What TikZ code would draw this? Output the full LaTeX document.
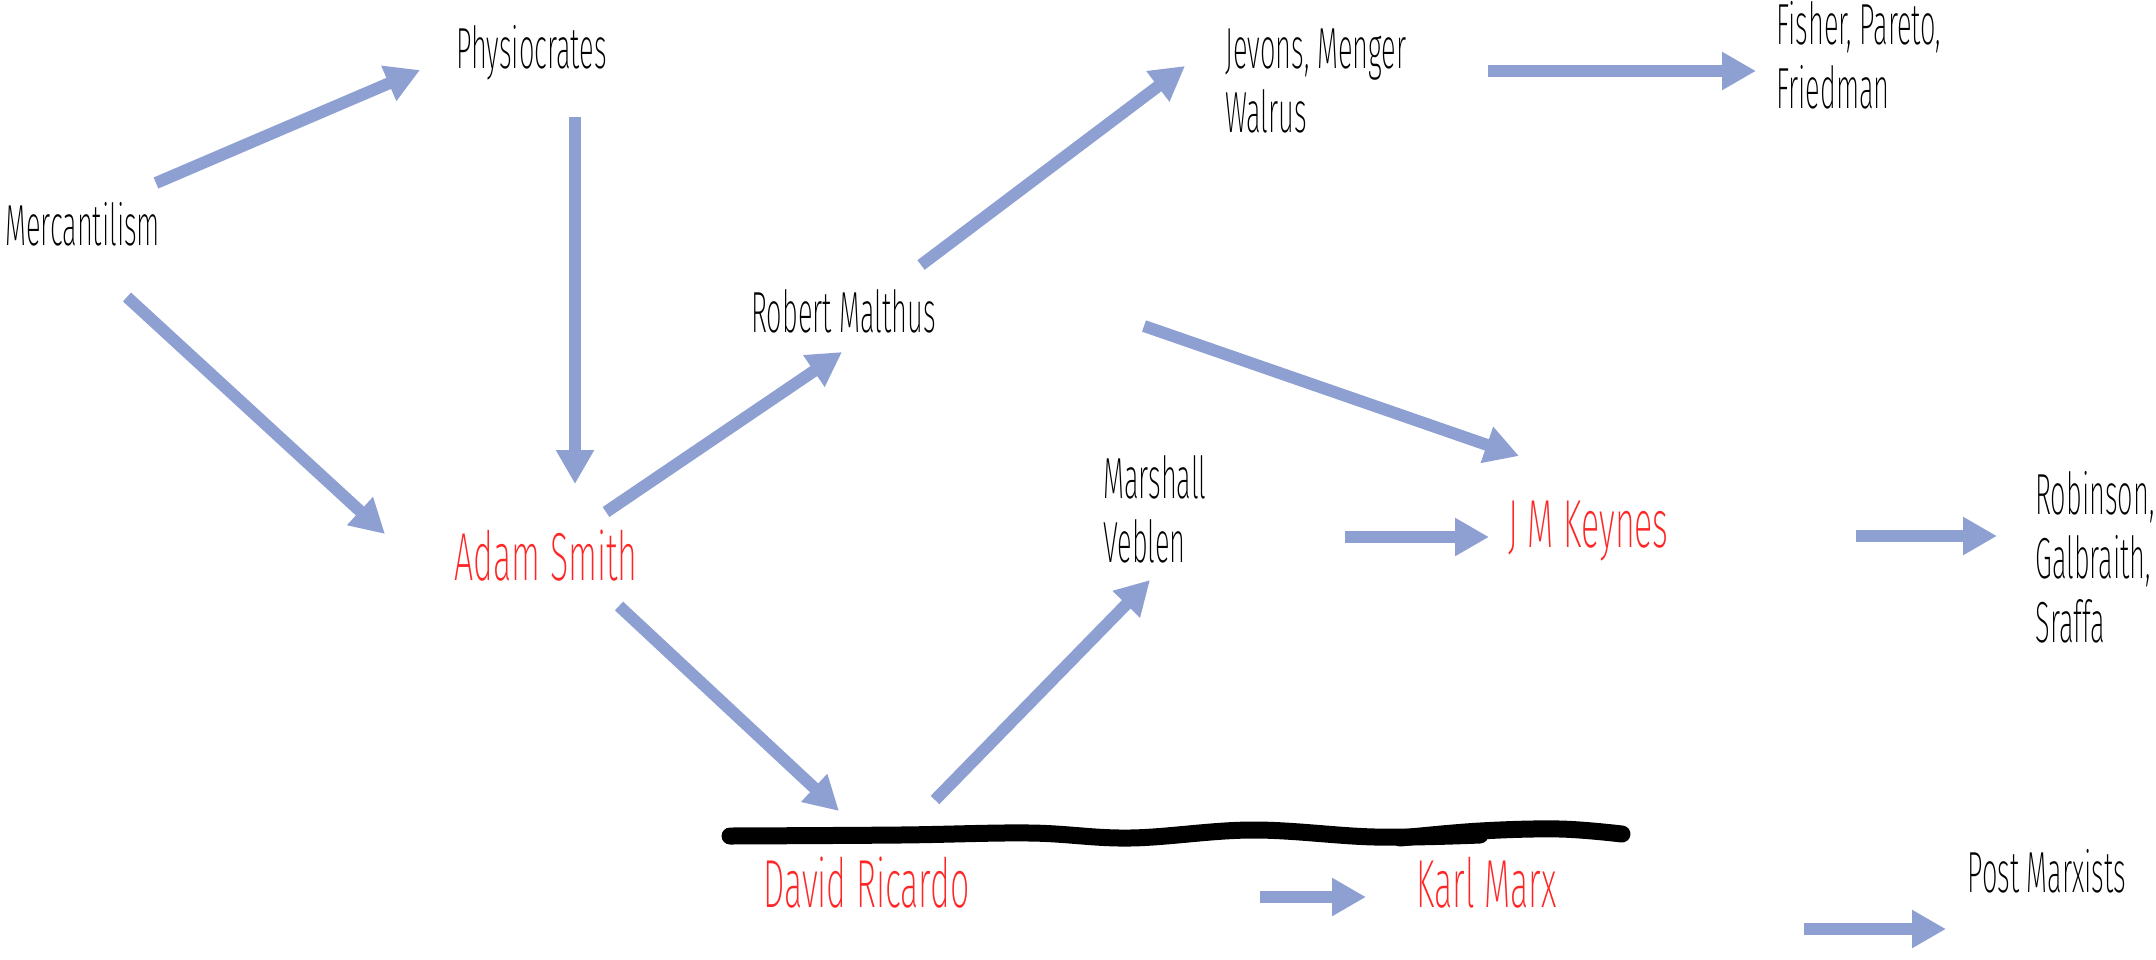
\documentclass[tikz,border=0pt]{standalone}
\usepackage{fontspec}
\IfFontExistsTF{Fira Sans ExtraLight}
    {\def\schoolfontname{Fira Sans ExtraLight}}
    {\IfFontExistsTF{Fira Sans Light}
        {\def\schoolfontname{Fira Sans Light}}
        {\def\schoolfontname{Fira Sans}}}
\setmainfont{\schoolfontname}[FakeStretch = 0.47]
\newfontfamily\keyfont{\schoolfontname}[FakeStretch = 0.50]
\usetikzlibrary{arrows.meta}

\definecolor{flowblue}{RGB}{142,160,210}
\definecolor{keyred}{RGB}{255,38,38}

\begin{document}
\begin{tikzpicture}[%
        x = 0.5pt,
        y = -0.5pt,
        flow/.style = {
            draw = flowblue,
            line width = 6pt,
            -{Triangle[width = 18pt, length = 17pt]}
        },
        school/.style = {
            anchor = base west,
            inner sep = 0pt,
            align = left,
            font = \fontsize{29pt}{32pt}\selectfont
        },
        keyschool/.style = {
            school,
            text = keyred,
            font = \keyfont\fontsize{34pt}{38pt}\selectfont
        },
        scribble/.style = {
            draw = black,
            line width = 8.5pt,
            line cap = round,
            line join = round
        }
    ]

        \useasboundingbox (0, 0) rectangle (2156, 959);

        % Names of the schools (multi-line ones sit on their last line).
        \node[school] at (5, 245) (merc) {Mercantilism};
        \node[school] at (456, 68) (physio) {Physiocrates};
        \node[school] at (751, 332) (malthus) {Robert Malthus};
        \node[school] at (1225, 132) (jevons) {Jevons, Menger\\Walrus};
        \node[school] at (1776, 108) (fisher) {Fisher, Pareto,\\Friedman};
        \node[keyschool] at (454, 580) (smith) {Adam Smith};
        \node[school] at (1103, 562) (marshall) {Marshall\\Veblen};
        \node[keyschool] at (1508, 547) (keynes) {J M Keynes};
        \node[school] at (2035, 642) (robinson) {Robinson,\\Galbraith,\\Sraffa};
        \node[keyschool] at (763, 907) (ricardo) {David Ricardo};
        \node[keyschool] at (1416, 907) (marx) {Karl Marx};
        \node[school] at (1967, 892) (postmarx) {Post Marxists};

        % Ends of the arrows.
        \coordinate (m1) at (156, 183);
        \coordinate (p1) at (420, 70);
        \coordinate (m2) at (127, 297);
        \coordinate (s1) at (385, 534);
        \coordinate (p2) at (575, 117);
        \coordinate (s2) at (575, 484);
        \coordinate (s3) at (606, 512);
        \coordinate (r1) at (842, 352);
        \coordinate (r2) at (921, 265);
        \coordinate (j1) at (1185, 66);
        \coordinate (j2) at (1488, 71);
        \coordinate (f1) at (1756, 71);
        \coordinate (r3) at (1144, 326);
        \coordinate (k1) at (1519, 456);
        \coordinate (s4) at (619, 606);
        \coordinate (d1) at (839, 811);
        \coordinate (d2) at (935, 800);
        \coordinate (v1) at (1150, 580);
        \coordinate (v2) at (1345, 537);
        \coordinate (k2) at (1489, 537);
        \coordinate (k3) at (1856, 536);
        \coordinate (g1) at (1997, 536);
        \coordinate (d3) at (1260, 897);
        \coordinate (x1) at (1366, 897);
        \coordinate (x2) at (1804, 929);
        \coordinate (q1) at (1946, 929);

        % Draw the arrows between the schools.
        \draw[flow] (m1) -- (p1);
        \draw[flow] (m2) -- (s1);
        \draw[flow] (p2) -- (s2);
        \draw[flow] (s3) -- (r1);
        \draw[flow] (r2) -- (j1);
        \draw[flow] (j2) -- (f1);
        \draw[flow] (r3) -- (k1);
        \draw[flow] (s4) -- (d1);
        \draw[flow] (d2) -- (v1);
        \draw[flow] (v2) -- (k2);
        \draw[flow] (k3) -- (g1);
        \draw[flow] (d3) -- (x1);
        \draw[flow] (x2) -- (q1);

        % Hand drawn bar above Ricardo and Marx.
        \draw[scribble] plot[smooth, tension = 0.6] coordinates {
            (730, 836) (900, 835) (1030, 833) (1130, 838)
            (1252, 830) (1375, 837) (1480, 835)};
        \draw[scribble] plot[smooth, tension = 0.6] coordinates {
            (1400, 838) (1480, 831) (1560, 829) (1622, 834)};
    \end{tikzpicture}
\end{document}
